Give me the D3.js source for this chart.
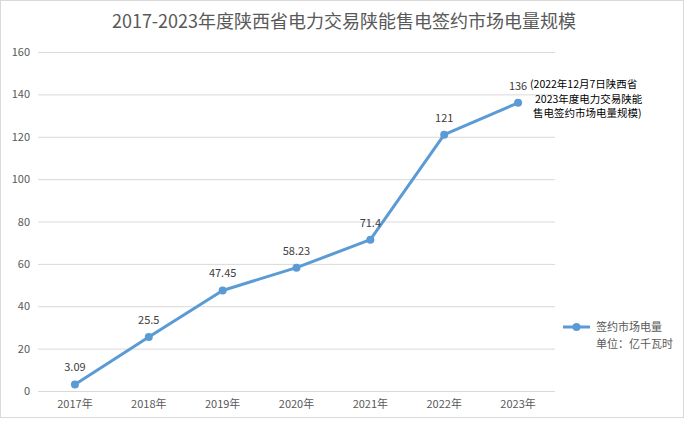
<!DOCTYPE html>
<html><head><meta charset="utf-8">
<script src="https://cdn.jsdelivr.net/npm/d3@7"></script>
<style>body{margin:0;background:#fff;}svg{display:block;font-family:"Noto Sans CJK SC","Noto Sans",sans-serif;}</style>
</head><body>
<svg id="c" width="688" height="425"></svg>
<script>
const categories = ["2017年","2018年","2019年","2020年","2021年","2022年","2023年"];
const values = [3.09, 25.5, 47.45, 58.23, 71.4, 121, 136];
const valueLabels = ["3.09","25.5","47.45","58.23","71.4","121","136"];
const yTicks = [0,20,40,60,80,100,120,140,160];
const title = "2017-2023年度陕西省电力交易陕能售电签约市场电量规模";
const seriesName = "签约市场电量";
const unitText = "单位：亿千瓦时";
const note = ["(2022年12月7日陕西省","2023年度电力交易陕能","售电签约市场电量规模)"];

const svg = d3.select("#c");
const color = "#5B9BD5";
const textColor = "#595959";

// chart border
svg.append("rect").attr("x",0.5).attr("y",0.5).attr("width",683).attr("height",417)
  .attr("fill","#fff").attr("stroke","#D9D9D9");

const x = d3.scaleBand().domain(categories).range([38,555]);
const y = d3.scaleLinear().domain([0,160]).range([391,52]);

// gridlines
svg.append("g").selectAll("line").data(yTicks).join("line")
  .attr("x1",38).attr("x2",555).attr("y1",d=>y(d)+0.5).attr("y2",d=>y(d)+0.5)
  .attr("stroke","#D9D9D9").attr("stroke-width",1);

// y axis labels
const yAxis = d3.axisLeft(y).tickValues(yTicks).tickSize(0).tickPadding(8);
const gy = svg.append("g").attr("transform","translate(38,0)").call(yAxis);
gy.select(".domain").remove();
gy.selectAll("text").attr("fill",textColor).style("font-size","11px").style("font-family","'Noto Sans CJK SC',sans-serif");

// x axis labels
const xAxis = d3.axisBottom(x).tickSize(0).tickPadding(9);
const gx = svg.append("g").attr("transform","translate(0,391)").call(xAxis);
gx.select(".domain").remove();
gx.selectAll("text").attr("fill",textColor).style("font-size","11px").style("font-family","'Noto Sans CJK SC',sans-serif");

// title
svg.append("text").attr("x",344).attr("y",28).attr("text-anchor","middle")
  .attr("fill",textColor).style("font-size","18px").text(title);

// line
const cx = d => x(d) + x.bandwidth()/2;
const line = d3.line().x((d,i)=>cx(categories[i])).y(d=>y(d));
svg.append("path").datum(values).attr("d",line).attr("fill","none")
  .attr("stroke",color).attr("stroke-width",3).attr("stroke-linejoin","round").attr("stroke-linecap","round");
svg.append("g").selectAll("circle").data(values).join("circle")
  .attr("cx",(d,i)=>cx(categories[i])).attr("cy",d=>y(d)).attr("r",4).attr("fill",color);

// data labels
svg.append("g").selectAll("text").data(values).join("text")
  .attr("x",(d,i)=>cx(categories[i])).attr("y",d=>y(d)-13)
  .attr("text-anchor","middle").attr("fill","#404040").style("font-size","11px")
  .text((d,i)=>valueLabels[i]);

// annotation
const nt = svg.append("text").attr("fill","#000").style("font-size","10.5px");
const noteX = [530,535,533];
note.forEach((s,i)=>{
  nt.append("tspan").attr("x",noteX[i]).attr("y",88+i*14.5).text(s);
});

// legend
svg.append("line").attr("x1",563).attr("x2",590).attr("y1",327).attr("y2",327)
  .attr("stroke",color).attr("stroke-width",3);
svg.append("circle").attr("cx",576.5).attr("cy",327).attr("r",4).attr("fill",color);
svg.append("text").attr("x",596).attr("y",331).attr("fill",textColor).style("font-size","11px").text(seriesName);
svg.append("text").attr("x",596).attr("y",348).attr("fill",textColor).style("font-size","11px").text(unitText);
</script>
</body></html>
